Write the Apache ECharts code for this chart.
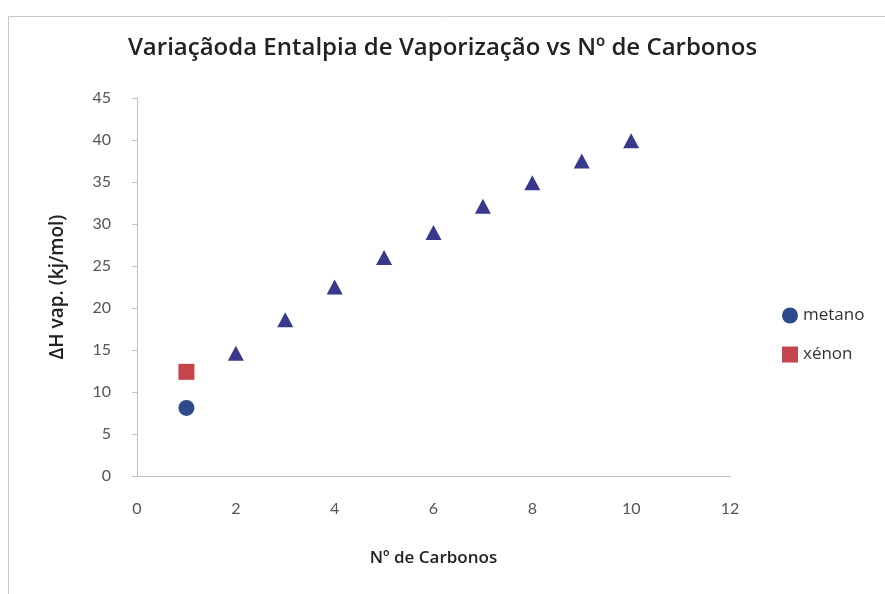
<!DOCTYPE html>
<html>
<head>
<meta charset="utf-8">
<script src="https://cdn.jsdelivr.net/npm/echarts@6/dist/echarts.min.js"></script>
<style>
  html, body { margin: 0; padding: 0; background: #ffffff; }
  #chart { width: 885px; height: 594px; }
</style>
</head>
<body>
<div id="chart"></div>
<script>
// Number of carbon atoms and enthalpy of vaporization (kJ/mol)
const alkaneCarbons = [2, 3, 4, 5, 6, 7, 8, 9, 10];
const alkaneDeltaH = [14.6, 18.6, 22.5, 26.0, 29.0, 32.1, 34.9, 37.5, 39.9];
const metanoCarbons = [1];
const metanoDeltaH = [8.1];
const xenonCarbons = [1];
const xenonDeltaH = [12.4];

const titleText = 'Variaçãoda Entalpia de Vaporização vs Nº de Carbonos';
const xName = 'Nº de Carbonos';
const yName = 'ΔH vap. (kj/mol)';

const pairs = (xs, ys) => xs.map((x, i) => [x, ys[i]]);
const font = 'Lato, "Open Sans", sans-serif';
const wideFont = '"Open Sans", Lato, sans-serif';

const chart = echarts.init(document.getElementById('chart'), null, { renderer: 'canvas' });
chart.setOption({
  backgroundColor: '#ffffff',
  animation: false,
  textStyle: { fontFamily: font },
  graphic: [{
    type: 'rect',
    left: 6, top: 14,
    shape: { width: 890, height: 600 },
    style: { fill: 'none', stroke: '#c8c8c8', lineWidth: 1 },
    silent: true
  }],
  title: {
    text: titleText,
    left: 'center',
    top: 31,
    textStyle: { fontFamily: wideFont, fontSize: 24, fontWeight: 600, color: '#222222' }
  },
  legend: {
    orient: 'vertical',
    left: 777,
    top: 302,
    itemGap: 22,
    itemWidth: 16,
    itemHeight: 16,
    data: ['metano', 'xénon'],
    textStyle: { fontFamily: wideFont, fontSize: 17, color: '#333333' }
  },
  grid: { left: 137, right: 155, top: 98, bottom: 118 },
  xAxis: {
    type: 'value',
    min: 0, max: 12, interval: 2,
    name: xName,
    nameLocation: 'middle',
    nameGap: 74,
    nameTextStyle: { fontFamily: wideFont, fontSize: 17, fontWeight: 600, color: '#222222' },
    axisLine: { show: true, lineStyle: { color: '#c0c0c0', width: 1 } },
    axisTick: { show: false },
    axisLabel: { fontFamily: font, fontSize: 16, color: '#555555', margin: 25 },
    splitLine: { show: false }
  },
  yAxis: {
    type: 'value',
    min: 0, max: 45, interval: 5,
    name: yName,
    nameLocation: 'middle',
    nameRotate: 90,
    nameGap: 70,
    nameTextStyle: { fontFamily: wideFont, fontSize: 19, fontWeight: 600, color: '#222222' },
    axisLine: { show: true, lineStyle: { color: '#c0c0c0', width: 1 } },
    axisTick: { show: true, inside: false, length: 5, lineStyle: { color: '#c0c0c0' } },
    axisLabel: { fontFamily: font, fontSize: 16, color: '#555555', margin: 26 },
    splitLine: { show: false }
  },
  series: [
    {
      name: 'alcanos',
      type: 'scatter',
      symbol: 'triangle',
      symbolSize: [16, 15],
      itemStyle: { color: '#38388c', opacity: 1 },
      data: pairs(alkaneCarbons, alkaneDeltaH)
    },
    {
      name: 'metano',
      type: 'scatter',
      symbol: 'circle',
      symbolSize: 16,
      itemStyle: { color: '#2f4a8c', opacity: 1 },
      data: pairs(metanoCarbons, metanoDeltaH)
    },
    {
      name: 'xénon',
      type: 'scatter',
      symbol: 'rect',
      symbolSize: 16,
      itemStyle: { color: '#c4464c', opacity: 1 },
      data: pairs(xenonCarbons, xenonDeltaH)
    }
  ]
});
</script>
</body>
</html>
